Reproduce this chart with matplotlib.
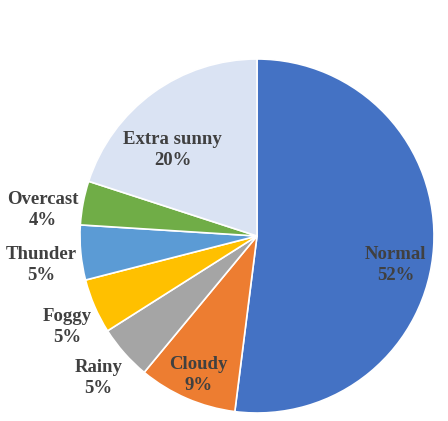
import numpy as np
import matplotlib
matplotlib.use('Agg')
from matplotlib import pyplot as plt

categories = ['Normal', 'Cloudy', 'Rainy', 'Foggy', 'Thunder', 'Overcast', 'Extra sunny']
shares = [52, 9, 5, 5, 5, 4, 20]
colors = ['#4472C4', '#ED7D31', '#A5A5A5', '#FFC000', '#5B9BD5', '#70AD47', '#DAE3F3']

# label placement: distance from centre (in radii) and angle nudge (degrees)
label_dist = [0.80, 0.855, 1.20, 1.19, 1.23, 1.22, 0.68]
label_nudge = [-8.3, 0.5, 0.4, 2.2, 2.3, 3.9, 8.6]

fig = plt.figure(figsize=(4.48, 4.21), dpi=100)
ax = fig.add_axes([80 / 448, 8 / 421, 354 / 448, 354 / 421])

wedges, _ = ax.pie(shares, colors=colors, startangle=90, counterclock=False,
                   radius=1.0, wedgeprops=dict(edgecolor='white', linewidth=1.2))

for w, name, pct, d, nudge in zip(wedges, categories, shares, label_dist, label_nudge):
    mid = np.deg2rad((w.theta1 + w.theta2) / 2 + nudge)
    ax.text(d * np.cos(mid), d * np.sin(mid), '{}\n{}%'.format(name, pct),
            ha='center', va='center', fontsize=13.5, fontweight='bold',
            family='Liberation Serif', color='#404040', linespacing=1.3)

ax.set_xlim(-1, 1)
ax.set_ylim(-1, 1)
ax.set_aspect('equal')
ax.axis('off')

fig.savefig('out.png', dpi=100)
